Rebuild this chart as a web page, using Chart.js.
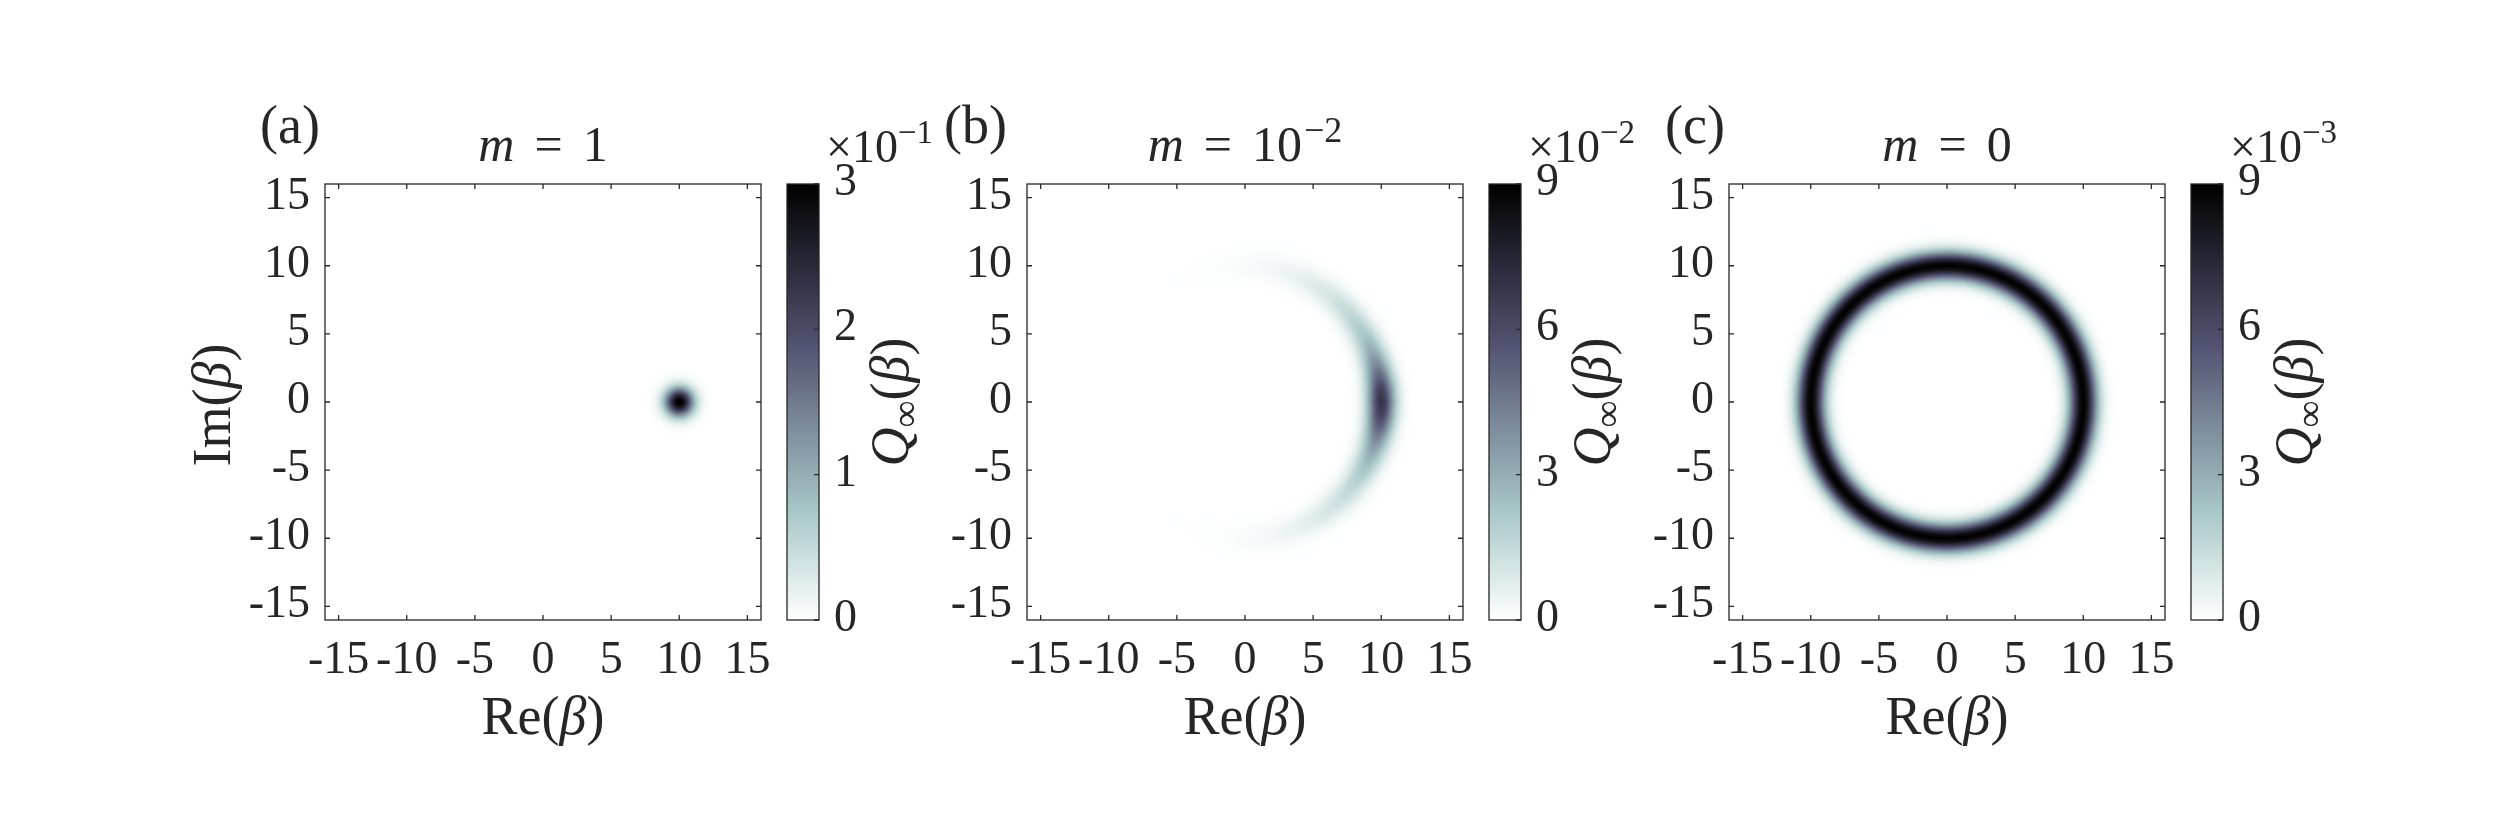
<!DOCTYPE html>
<html>
<head>
<meta charset="utf-8">
<script src="https://cdn.jsdelivr.net/npm/chart.js@4.4.1/dist/chart.umd.min.js"></script>
<style>
  html, body { margin: 0; padding: 0; background: #fff; }
  body { width: 2500px; height: 834px; position: relative; overflow: hidden; }
  canvas { position: absolute; top: 0; }
</style>
</head>
<body>
<canvas id="qa" width="800" height="834" style="left:150px"></canvas>
<canvas id="qb" width="800" height="834" style="left:852px"></canvas>
<canvas id="qc" width="800" height="834" style="left:1554px"></canvas>
<script>
// --- data ---
const axisTicks = [-15, -10, -5, 0, 5, 10, 15];
const axisMin = -16, axisMax = 16;

// (a) m = 1 : single spot around beta = 10, values in units of 1e-1
const spotCentre = [10, 0];
const spotOffsets = [0, 0.25, 0.5, 0.75, 1, 1.25, 1.5, 1.75, 2, 2.25, 2.5, 2.75, 3];
const spotValues = [3.1, 2.92, 2.45, 1.8, 1.17, 0.67, 0.33, 0.15, 0.058, 0.02, 0.006, 0.0015, 0];

// (c) m = 0 : ring of radius 10, cross-section in units of 1e-3
const ringRadius = 10;
const ringOffsets = [0, 0.25, 0.5, 0.75, 1, 1.25, 1.5, 1.75, 2, 2.25, 2.5, 2.75, 3];
const ringValues = [9.0, 8.45, 7.0, 5.1, 3.3, 1.88, 0.95, 0.42, 0.165, 0.056, 0.017, 0.004, 0];

// (b) m = 1e-2 : crescent, ridge height vs |arg beta| (deg), units of 1e-2
const crescentAngles = [0, 5, 10, 15, 20, 25, 30, 40, 50, 60, 70, 80, 90, 100, 110, 120, 130, 180];
const crescentPeak = [7.0, 6.5, 5.4, 4.3, 3.4, 2.75, 2.25, 1.6, 1.15, 0.8, 0.52, 0.32, 0.18, 0.09, 0.04, 0.015, 0, 0];

// colour bars
const cbTicksA = [0, 1, 2, 3];
const cbTicksB = [0, 3, 6, 9];
const cbTicksC = [0, 3, 6, 9];
const cbExponents = ['\u22121', '\u22122', '\u22123'];

// --- look & feel ---
const FONT = '"Liberation Serif"';
const INK = '#262626';
const fReg = `46px ${FONT}`;
const fSup = `33px ${FONT}`;
const fTitle = `50px ${FONT}`;
const fTitleIt = `italic 50px ${FONT}`;
const fTitleSup = `36px ${FONT}`;
const fLab = `54px ${FONT}`;
const fLabIt = `italic 54px ${FONT}`;
const fLabSub = `38px ${FONT}`;
// MATLAB "bone", used upside down (0 -> white)
const boneStops = [[0, 0, 0, 0], [0.375, 0.328, 0.328, 0.453], [0.75, 0.656, 0.781, 0.781], [1, 1, 1, 1]];

function boneColour(t) {
  t = Math.min(1, Math.max(0, t));
  const x = 1 - t;
  for (let i = 1; i < boneStops.length; i++) {
    const a = boneStops[i - 1], b = boneStops[i];
    if (x <= b[0]) {
      const f = (x - a[0]) / (b[0] - a[0]);
      return [0, 1, 2].map(k => Math.round(255 * (a[k + 1] + f * (b[k + 1] - a[k + 1]))));
    }
  }
  return [255, 255, 255];
}

// piecewise-linear reading of a sampled profile
function sample(xs, ys, v) {
  if (v <= xs[0]) return ys[0];
  for (let i = 1; i < xs.length; i++) {
    if (v <= xs[i]) {
      const f = (v - xs[i - 1]) / (xs[i] - xs[i - 1]);
      return ys[i - 1] + f * (ys[i] - ys[i - 1]);
    }
  }
  return ys[ys.length - 1];
}

const fieldA = (re, im) => sample(spotOffsets, spotValues, Math.hypot(re - spotCentre[0], im - spotCentre[1]));
const fieldB = (re, im) => {
  const ang = Math.abs(Math.atan2(im, re)) * 180 / Math.PI;
  const ridge = sample(ringOffsets, ringValues, Math.abs(Math.hypot(re, im) - ringRadius)) / ringValues[0];
  return sample(crescentAngles, crescentPeak, ang) * ridge;
};
const fieldC = (re, im) => sample(ringOffsets, ringValues, Math.abs(Math.hypot(re, im) - ringRadius));

// text made of pieces: [text, font, dy, extraGapAfter]
function drawParts(ctx, parts, x, y, align) {
  let total = 0;
  parts.forEach(p => { ctx.font = p[1]; total += ctx.measureText(p[0]).width + (p[3] || 0); });
  let cx = align === 'center' ? x - total / 2 : align === 'right' ? x - total : x;
  ctx.textAlign = 'left';
  ctx.textBaseline = 'alphabetic';
  parts.forEach(p => {
    ctx.font = p[1];
    ctx.fillText(p[0], cx, y + (p[2] || 0));
    cx += ctx.measureText(p[0]).width + (p[3] || 0);
  });
}

const panels = [
  { id: 'qa', left: 150, tag: '(a)', tagX: 260, field: fieldA, cbMax: 3, cbTicks: cbTicksA, exp: cbExponents[0], ylabel: true,
    title: [['m', fTitleIt, 0, 20], ['=', fTitle, 0, 20], ['1', fTitle]] },
  { id: 'qb', left: 852, tag: '(b)', tagX: 944, field: fieldB, cbMax: 9, cbTicks: cbTicksB, exp: cbExponents[1], ylabel: false,
    title: [['m', fTitleIt, 0, 20], ['=', fTitle, 0, 20], ['10', fTitle, 0, 2], ['\u22122', fTitleSup, -19]] },
  { id: 'qc', left: 1554, tag: '(c)', tagX: 1665, field: fieldC, cbMax: 9, cbTicks: cbTicksC, exp: cbExponents[2], ylabel: false,
    title: [['m', fTitleIt, 0, 20], ['=', fTitle, 0, 20], ['0', fTitle]] }
];

function qPlugin(p) {
  return {
    id: 'qmap',
    afterDraw(chart) {
      const { ctx, chartArea: ca, scales } = chart;
      const xs = scales.x, ys = scales.y, cb = scales.cb;
      const w = Math.round(ca.right - ca.left), h = Math.round(ca.bottom - ca.top);

      // heat map, one pixel at a time through the scales
      const img = ctx.createImageData(w, h);
      for (let j = 0; j < h; j++) {
        const im = ys.getValueForPixel(ca.top + j + 0.5);
        for (let i = 0; i < w; i++) {
          const re = xs.getValueForPixel(ca.left + i + 0.5);
          const c = boneColour(p.field(re, im) / p.cbMax);
          const k = (j * w + i) * 4;
          img.data[k] = c[0]; img.data[k + 1] = c[1]; img.data[k + 2] = c[2]; img.data[k + 3] = 255;
        }
      }
      ctx.putImageData(img, Math.round(ca.left), Math.round(ca.top));

      ctx.save();
      ctx.strokeStyle = INK;
      ctx.fillStyle = INK;
      ctx.lineWidth = 1.3;
      ctx.strokeRect(ca.left, ca.top, w, h);
      const tl = 5;
      ctx.beginPath();
      axisTicks.forEach(t => {
        const px = xs.getPixelForValue(t), py = ys.getPixelForValue(t);
        ctx.moveTo(px, ca.bottom); ctx.lineTo(px, ca.bottom - tl);
        ctx.moveTo(px, ca.top); ctx.lineTo(px, ca.top + tl);
        ctx.moveTo(ca.left, py); ctx.lineTo(ca.left + tl, py);
        ctx.moveTo(ca.right, py); ctx.lineTo(ca.right - tl, py);
      });
      ctx.stroke();

      // tick labels
      axisTicks.forEach(t => {
        const lab = t < 0 ? '-' + Math.abs(t) : String(t);
        drawParts(ctx, [[lab, fReg]], xs.getPixelForValue(t), ca.bottom + 53, 'center');
        drawParts(ctx, [[lab, fReg]], ca.left - 15, ys.getPixelForValue(t) + 11, 'right');
      });

      // axis labels
      drawParts(ctx, [['Re', fLab], ['(', fLab], ['\u03b2', fLabIt], [')', fLab]], (ca.left + ca.right) / 2, ca.bottom + 114, 'center');
      if (p.ylabel) {
        ctx.save();
        ctx.translate(ca.left - 110, (ca.top + ca.bottom) / 2 + 3);
        ctx.rotate(-Math.PI / 2);
        drawParts(ctx, [['Im', fLab], ['(', fLab], ['\u03b2', fLabIt], [')', fLab]], 0, 15, 'center');
        ctx.restore();
      }

      // title and panel tag
      drawParts(ctx, p.title, (ca.left + ca.right) / 2, 161, 'center');
      drawParts(ctx, [[p.tag, fLab]], p.tagX - p.left, 143, 'left');

      // colour bar
      const cbL = ca.right + 26, cbW = 32;
      for (let py = Math.round(cb.top); py < Math.round(cb.bottom); py++) {
        const c = boneColour(cb.getValueForPixel(py + 0.5) / p.cbMax);
        ctx.fillStyle = `rgb(${c[0]},${c[1]},${c[2]})`;
        ctx.fillRect(cbL, py, cbW, 1);
      }
      ctx.fillStyle = INK;
      ctx.strokeRect(cbL, cb.top, cbW, cb.bottom - cb.top);
      ctx.beginPath();
      p.cbTicks.forEach(t => {
        const py = cb.getPixelForValue(t);
        ctx.moveTo(cbL + cbW, py); ctx.lineTo(cbL + cbW - tl, py);
        drawParts(ctx, [[String(t), fReg]], cbL + cbW + 15, py + 11, 'left');
      });
      ctx.stroke();
      drawParts(ctx, [['\u00d7', fReg], ['10', fReg], [p.exp, fSup, -19]], cbL + 39, 162, 'left');

      ctx.save();
      ctx.translate(cbL + 106, (cb.top + cb.bottom) / 2);
      ctx.rotate(-Math.PI / 2);
      drawParts(ctx, [['Q', fLabIt], ['\u221e', fLabSub, 10], ['(', fLab], ['\u03b2', fLabIt], [')', fLab]], 0, 15, 'center');
      ctx.restore();
      ctx.restore();
    }
  };
}

panels.forEach(p => {
  new Chart(document.getElementById(p.id), {
    type: 'scatter',
    data: { datasets: [] },
    options: {
      responsive: false,
      animation: false,
      devicePixelRatio: 1,
      layout: { padding: { left: 175, right: 189, top: 184, bottom: 214 } },
      plugins: { legend: { display: false }, tooltip: { enabled: false }, title: { display: false } },
      scales: {
        x: { type: 'linear', min: axisMin, max: axisMax, display: false },
        y: { type: 'linear', min: axisMin, max: axisMax, display: false },
        cb: { type: 'linear', axis: 'y', position: 'right', min: 0, max: p.cbMax, display: false }
      }
    },
    plugins: [qPlugin(p)]
  });
});
</script>
</body>
</html>
